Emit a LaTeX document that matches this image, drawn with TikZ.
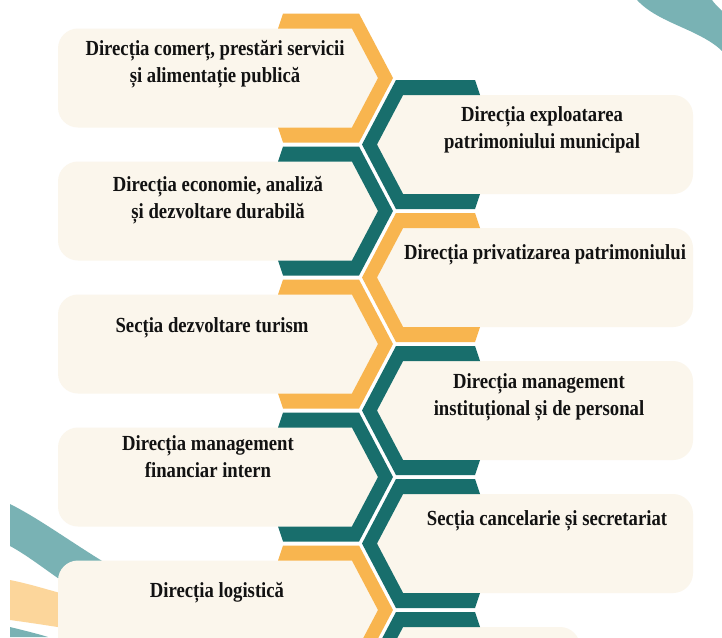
\documentclass[tikz,border=0pt]{standalone}
\usepackage{fontspec}
\newfontfamily\boxfont[FakeStretch=0.87]{Liberation Serif}
\definecolor{hexorange}{HTML}{F8B54F}
\definecolor{hexteal}{HTML}{186E6C}
\definecolor{boxcream}{HTML}{FBF6EC}
\definecolor{swteal}{HTML}{79B2B4}
\definecolor{sworange}{HTML}{FCD69B}
\definecolor{txtcol}{HTML}{121212}
\tikzset{
  lbox/.style={rectangle, rounded corners=20pt, fill=boxcream, inner sep=0pt,
    minimum width=287pt, minimum height=99pt},
  rbox/.style={rectangle, rounded corners=20pt, fill=boxcream, inner sep=0pt,
    minimum width=295pt, minimum height=99pt},
  txt/.style={align=center, inner sep=0pt, text=txtcol,
    font=\boxfont\bfseries\fontsize{21.5}{27}\selectfont},
}
% left half-hexagon pointing right, centre y = #1, colour #2
\newcommand\LeftBracket[2]{%
  \fill[boxcream] (290,{#1-49.5}) -- (351.9,{#1-49.5}) -- (378,#1) -- (351.9,{#1+49.5}) -- (290,{#1+49.5}) -- cycle;
  \fill[#2] (283,{#1-64.5}) -- (359,{#1-64.5}) -- (393,#1) -- (359,{#1+64.5}) -- (283,{#1+64.5})
    -- (278,{#1+49.5}) -- (351.9,{#1+49.5}) -- (378,#1) -- (351.9,{#1-49.5}) -- (278,{#1-49.5}) -- cycle;
}
% right half-hexagon pointing left, centre y = #1, colour #2
\newcommand\RightBracket[2]{%
  \fill[boxcream] (420,{#1-49.5}) -- (403.1,{#1-49.5}) -- (377,#1) -- (403.1,{#1+49.5}) -- (420,{#1+49.5}) -- cycle;
  \fill[#2] (396,{#1-64.5}) -- (475,{#1-64.5}) -- (480,{#1-49.5}) -- (403.1,{#1-49.5}) -- (377,#1)
    -- (403.1,{#1+49.5}) -- (480,{#1+49.5}) -- (475,{#1+64.5}) -- (396,{#1+64.5}) -- (362,#1) -- cycle;
}
\begin{document}
\begin{tikzpicture}[x=1pt,y=-1pt]
\useasboundingbox (0,0) rectangle (722,637);
\clip (0,0) rectangle (722,637);
\fill[white] (0,0) rectangle (722,637);

% decorative swooshes
\fill[swteal] (637,0) .. controls (650,14) and (668,21) .. (690,31)
  .. controls (705,38) and (715,44) .. (722,51) -- (722,11) .. controls (717,6) and (714,3) .. (712,0) -- cycle;
\fill[swteal] (10,504) .. controls (40,519) and (72,543) .. (112,567) -- (112,600) -- (62,581)
  .. controls (42,567) and (25,554) .. (10,546) -- cycle;
\fill[sworange] (10,580) .. controls (30,584) and (45,589) .. (64,594) -- (64,628)
  .. controls (45,625) and (25,622) .. (10,620) -- cycle;
\fill[swteal] (10,627) .. controls (22,630) and (35,633) .. (48,637) -- (10,637) -- cycle;

% boxes
\node[lbox] (b1) at (201.5,78) {};
\node[lbox] (b2) at (201.5,211) {};
\node[lbox] (b3) at (201.5,344) {};
\node[lbox] (b4) at (201.5,477) {};
\node[lbox] (b5) at (201.5,610) {};
\node[rbox] (c1) at (545.5,144.5) {};
\node[rbox] (c2) at (545.5,277.5) {};
\node[rbox] (c3) at (545.5,410.5) {};
\node[rbox] (c4) at (545.5,543.5) {};
\node[rbox, minimum width=182pt] (c5) at (489,676.5) {};

% half hexagons
\LeftBracket{78}{hexorange}
\LeftBracket{211}{hexteal}
\LeftBracket{344}{hexorange}
\LeftBracket{477}{hexteal}
\LeftBracket{610}{hexorange}
\RightBracket{144.5}{hexteal}
\RightBracket{277.5}{hexorange}
\RightBracket{410.5}{hexteal}
\RightBracket{543.5}{hexteal}
\RightBracket{676.5}{hexteal}

% texts
\node[txt] (t1) at (215,64) {Direcția comerț, prestări servicii\\și alimentație publică};
\node[txt] (t2) at (218,200) {Direcția economie, analiză\\și dezvoltare durabilă};
\node[txt] (t3) at (212,328) {Secția dezvoltare turism};
\node[txt] (t4) at (208,457) {Direcția management\\financiar intern};
\node[txt] (t5) at (217,593) {Direcția logistică};
\node[txt] (u1) at (542,130) {Direcția exploatarea\\patrimoniului municipal};
\node[txt] (u2) at (545,255) {Direcția privatizarea patrimoniului};
\node[txt] (u3) at (539,397) {Direcția management\\instituțional și de personal};
\node[txt] (u4) at (547,521) {Secția cancelarie și secretariat};
\end{tikzpicture}
\end{document}
